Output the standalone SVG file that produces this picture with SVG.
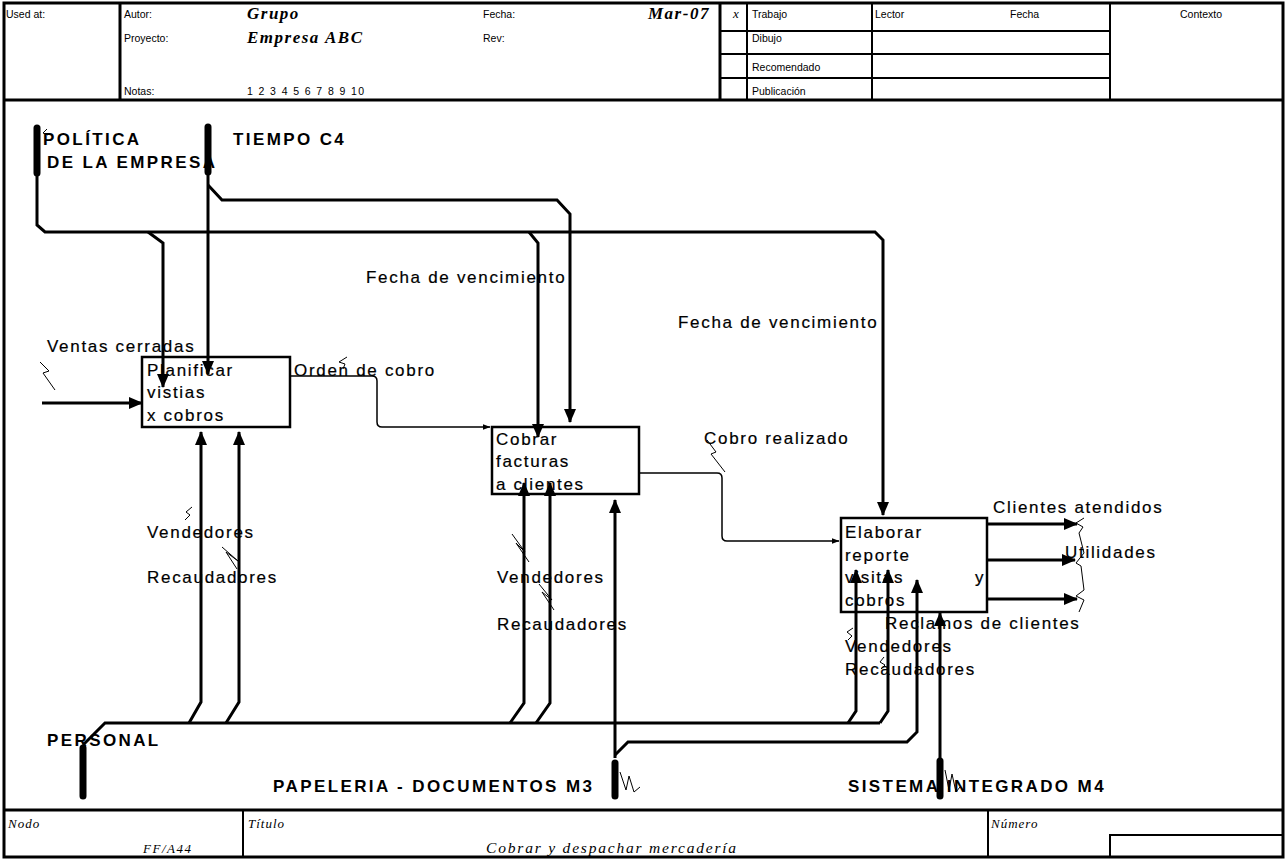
<svg xmlns="http://www.w3.org/2000/svg" width="1286" height="860" viewBox="0 0 1286 860">
<style>
.frame{fill:none;stroke:#000;stroke-width:3}
.grid{fill:none;stroke:#000;stroke-width:2}
.box{fill:#fff;stroke:#000;stroke-width:2.5}
.c{fill:none;stroke:#000;stroke-width:3;stroke-linejoin:miter}
.t{fill:none;stroke:#000;stroke-width:1.5}
.sq{fill:none;stroke:#000;stroke-width:1}
.bar{fill:none;stroke:#000;stroke-width:7;stroke-linecap:round}
.h{font-family:"Liberation Sans",Arial,sans-serif;font-size:10.5px;fill:#000}
.s{font-family:"Liberation Serif","DejaVu Serif",serif;font-style:italic;font-size:13px;letter-spacing:1px;fill:#000}
.st{font-family:"Liberation Serif","DejaVu Serif",serif;font-style:italic;font-size:15.5px;letter-spacing:1.8px;fill:#000}
.sb{font-family:"Liberation Serif","DejaVu Serif",serif;font-style:italic;font-weight:bold;font-size:17px;letter-spacing:1.5px;fill:#000}
.l{font-family:"Liberation Sans",Arial,sans-serif;font-size:17px;letter-spacing:1.7px;fill:#000;stroke:#000;stroke-width:0.2}
.b{font-family:"Liberation Sans",Arial,sans-serif;font-size:17px;font-weight:bold;letter-spacing:2.4px;fill:#000}
</style>
<defs>
<marker id="ah" markerUnits="userSpaceOnUse" markerWidth="14" markerHeight="12" refX="13" refY="6" orient="auto">
<path d="M0,0 L14,6 L0,12 z" fill="#000"/>
</marker>
<marker id="as" markerUnits="userSpaceOnUse" markerWidth="8" markerHeight="6" refX="7.5" refY="3" orient="auto">
<path d="M0,0 L8,3 L0,6 z" fill="#000"/>
</marker>
</defs>
<rect width="1286" height="860" fill="#fff"/>

<g id="header">
<rect class="frame" x="4" y="3" width="1279" height="854"/>
<line class="frame" x1="4" y1="100" x2="1283" y2="100"/>
<line class="frame" x1="120" y1="3" x2="120" y2="100"/>
<line class="frame" x1="720" y1="3" x2="720" y2="100"/>
<line class="grid" x1="747" y1="3" x2="747" y2="100"/>
<line class="grid" x1="872" y1="3" x2="872" y2="100"/>
<line class="grid" x1="1110" y1="3" x2="1110" y2="100"/>
<line class="grid" x1="720" y1="31" x2="1110" y2="31"/>
<line class="grid" x1="720" y1="54" x2="1110" y2="54"/>
<line class="grid" x1="720" y1="78" x2="1110" y2="78"/>
<text class="h" x="6" y="18">Used at:</text>
<text class="h" x="124" y="18">Autor:</text>
<text class="h" x="124" y="42">Proyecto:</text>
<text class="h" x="124" y="95">Notas:</text>
<text class="h" x="247" y="95" style="letter-spacing:1.4px">1 2 3 4 5 6 7 8 9 10</text>
<text class="sb" x="247" y="19">Grupo</text>
<text class="sb" x="247" y="43">Empresa ABC</text>
<text class="h" x="483" y="18">Fecha:</text>
<text class="h" x="483" y="42">Rev:</text>
<text class="sb" x="648" y="19">Mar-07</text>
<text class="s" x="733" y="18">x</text>
<text class="h" x="752" y="18">Trabajo</text>
<text class="h" x="752" y="42">Dibujo</text>
<text class="h" x="752" y="71">Recomendado</text>
<text class="h" x="752" y="95">Publicación</text>
<text class="h" x="875" y="18">Lector</text>
<text class="h" x="1010" y="18">Fecha</text>
<text class="h" x="1180" y="18">Contexto</text>
</g>

<g id="footer">
<line class="frame" x1="4" y1="810" x2="1283" y2="810"/>
<line class="grid" x1="243" y1="810" x2="243" y2="857"/>
<line class="grid" x1="988" y1="810" x2="988" y2="857"/>
<polyline class="grid" points="1110,857 1110,835 1283,835"/>
<text class="s" x="8" y="828">Nodo</text>
<text class="s" x="143" y="853" style="letter-spacing:1.5px">FF/A44</text>
<text class="s" x="248" y="828">Título</text>
<text class="st" x="612" y="853" text-anchor="middle">Cobrar y despachar mercadería</text>
<text class="s" x="991" y="828">Número</text>
</g>

<g id="connectors">
<path class="c" d="M37,175 L37,225 L45,232 L875,232 L883,240 L883,515" marker-end="url(#ah)"/>
<path class="c" d="M148,232 L163,243 L163,387" marker-end="url(#ah)"/>
<path class="c" d="M529,232 L538,243 L538,437" marker-end="url(#ah)"/>
<path class="c" d="M208,172 L208,374" marker-end="url(#ah)"/>
<path class="c" d="M208,185 L222,200 L557,200 L570,214 L570,422" marker-end="url(#ah)"/>
<path class="c" d="M42,403 L142,403" marker-end="url(#ah)"/>
<path class="t" d="M290,376 L372,376 Q377,376 377,381 L377,422 Q377,427 382,427 L490,427" marker-end="url(#as)"/>
<path class="t" d="M638,473 L717,473 Q722,473 722,478 L722,536 Q722,541 727,541 L839,541" marker-end="url(#as)"/>
<path class="c" d="M987,524 L1077,524" marker-end="url(#ah)"/>
<path class="c" d="M986,560 L1075,560" marker-end="url(#ah)"/>
<path class="c" d="M987,599 L1077,599" marker-end="url(#ah)"/>
<path class="c" d="M83,745 L105,723 L880,723"/>
<path class="c" d="M189,723 L201,702 L201,432" marker-end="url(#ah)"/>
<path class="c" d="M226,723 L239,702 L239,432" marker-end="url(#ah)"/>
<path class="c" d="M510,723 L524,703 L524,483" marker-end="url(#ah)"/>
<path class="c" d="M536,723 L550,703 L550,483" marker-end="url(#ah)"/>
<path class="c" d="M848,723 L856,711 L856,570" marker-end="url(#ah)"/>
<path class="c" d="M880,723 L888,711 L888,570" marker-end="url(#ah)"/>
<path class="c" d="M615,758 L615,500" marker-end="url(#ah)"/>
<path class="c" d="M615,755 L628,742 L907,742 L917,732 L917,580" marker-end="url(#ah)"/>
<path class="c" d="M940,760 L940,613" marker-end="url(#ah)"/>
</g>

<g id="squiggles">
<polyline class="sq" points="40,362 49,371 43,373 55,390"/>
<polyline class="sq" points="47,129 43,133 48,135"/>
<polyline class="sq" points="347,357 339,362 345,364 343,369"/>
<polyline class="sq" points="707,440 716,452 711,454 725,472"/>
<polyline class="sq" points="192,507 186,512 190,515 185,520"/>
<polyline class="sq" points="222,547 238,561 226,552 237,569"/>
<polyline class="sq" points="512,534 525,552 516,543 529,562"/>
<polyline class="sq" points="539,584 552,600 542,592 554,610"/>
<polyline class="sq" points="853,628 847,632 852,636 848,640"/>
<polyline class="sq" points="884,657 880,662 885,665 881,669"/>
<polyline class="sq" points="1084,518 1076,523 1083,527 1079,533 1084,553 1076,563 1081,566 1084,590 1076,596 1084,600 1079,612"/>
<polyline class="sq" points="620,772 626,790 629,776 634,792 640,787"/>
<polyline class="sq" points="945,770 949,790 952,774 956,792 960,787"/>
</g>

<g id="tunnels">
<line class="bar" x1="37" y1="128" x2="37" y2="173"/>
<line class="bar" x1="208" y1="127" x2="208" y2="172"/>
<line class="bar" x1="83" y1="748" x2="83" y2="796"/>
<line class="bar" x1="615" y1="763" x2="615" y2="796"/>
<line class="bar" x1="940" y1="761" x2="940" y2="796"/>
</g>

<g id="node-A1">
<rect class="box" x="142" y="357" width="148" height="70" fill-opacity="0"/>
<text class="l" x="147" y="376">Planificar</text>
<text class="l" x="147" y="398">vistias</text>
<text class="l" x="147" y="421">x cobros</text>
</g>
<g id="node-A2">
<rect class="box" x="492" y="427" width="147" height="67" fill-opacity="0"/>
<text class="l" x="496" y="445">Cobrar</text>
<text class="l" x="496" y="467">facturas</text>
<text class="l" x="496" y="490">a clientes</text>
</g>
<g id="node-A3">
<rect class="box" x="841" y="518" width="146" height="94" fill-opacity="0"/>
<text class="l" x="845" y="538">Elaborar</text>
<text class="l" x="845" y="561">reporte</text>
<text class="l" x="845" y="583">visitas</text>
<text class="l" x="975" y="583">y</text>
<text class="l" x="845" y="606">cobros</text>
</g>

<g id="labels">
<text class="b" x="43" y="145">POLÍTICA</text>
<text class="b" x="47" y="168">DE LA EMPRESA</text>
<text class="b" x="233" y="145">TIEMPO C4</text>
<text class="b" x="47" y="746">PERSONAL</text>
<text class="b" x="273" y="792">PAPELERIA - DOCUMENTOS M3</text>
<text class="b" x="848" y="792">SISTEMA INTEGRADO M4</text>
<text class="l" x="366" y="283">Fecha de vencimiento</text>
<text class="l" x="678" y="328">Fecha de vencimiento</text>
<text class="l" x="47" y="352">Ventas cerradas</text>
<text class="l" x="294" y="376">Orden de cobro</text>
<text class="l" x="704" y="444">Cobro realizado</text>
<text class="l" x="993" y="513">Clientes atendidos</text>
<text class="l" x="1065" y="558">Utilidades</text>
<text class="l" x="885" y="629">Reclamos de clientes</text>
<text class="l" x="147" y="538">Vendedores</text>
<text class="l" x="147" y="583">Recaudadores</text>
<text class="l" x="497" y="583">Vendedores</text>
<text class="l" x="497" y="630">Recaudadores</text>
<text class="l" x="845" y="652">Vendedores</text>
<text class="l" x="845" y="675">Recaudadores</text>
</g>
</svg>
